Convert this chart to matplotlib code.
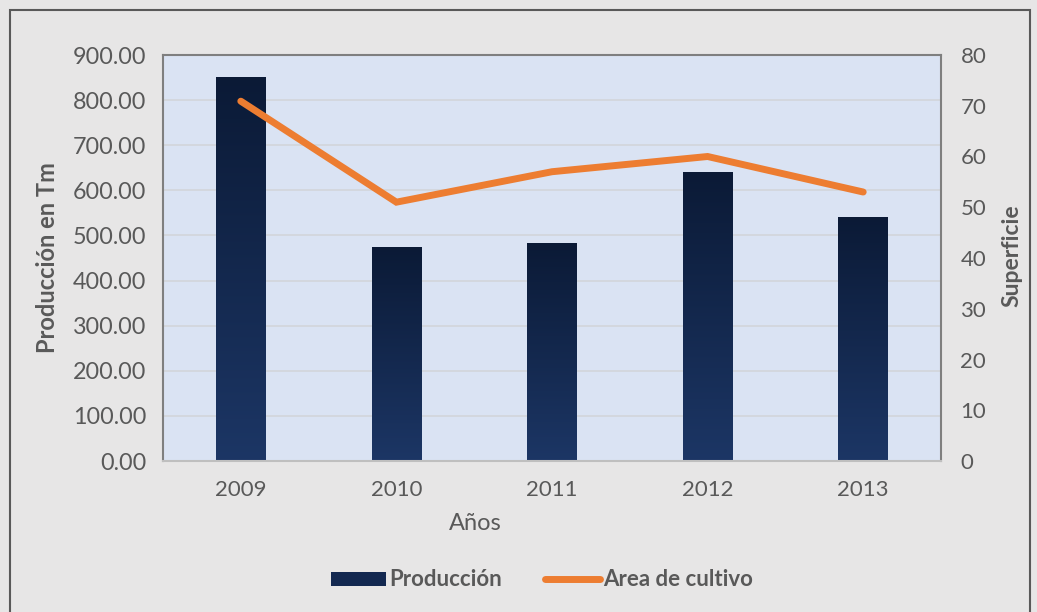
import matplotlib
matplotlib.use("Agg")
import matplotlib.pyplot as plt
import numpy as np
from matplotlib.patches import Rectangle
from matplotlib.lines import Line2D
from matplotlib.colors import LinearSegmentedColormap

years = ["2009", "2010", "2011", "2012", "2013"]
produccion = [851, 474, 483, 641, 541]
area_cultivo = [70.9, 51.0, 57.0, 60.0, 53.0]
left_ticks = [0, 100, 200, 300, 400, 500, 600, 700, 800, 900]
right_ticks = [0, 10, 20, 30, 40, 50, 60, 70, 80]

plt.rcParams['font.family'] = ['Lato', 'DejaVu Sans']
TXT = '#595959'
W, H = 1037, 612
fig = plt.figure(figsize=(W/100, H/100), dpi=100, facecolor='#e7e6e6')

# outer border
fig.patches.append(Rectangle((10/W, -0.01), 1020/W, 1 - 10/H + 0.01, transform=fig.transFigure,
                             fill=False, edgecolor='#595959', linewidth=1.5))

ax = fig.add_axes([163/W, 1 - 461/H, (941-163)/W, (461-55)/H])
ax.set_facecolor('#dae3f3')
x = np.arange(len(years))
ax.set_yticks(left_ticks)
ax.set_yticklabels([f"{v:.2f}" for v in left_ticks])
ax.grid(axis='y', color='#d3d6dc', linewidth=1.3)
ax.set_axisbelow(True)

cmap = LinearSegmentedColormap.from_list('nav', ['#1c3665', '#0b1a36'])
grad = np.linspace(0, 1, 256).reshape(-1, 1)
bars = ax.bar(x, produccion, width=0.32, color='#132850', zorder=2)
for b in bars:
    bx = b.get_x()
    bw, bh = b.get_width(), b.get_height()
    im = ax.imshow(grad, extent=[bx, bx + bw, 0, bh], origin='lower', cmap=cmap,
                   aspect='auto', zorder=2.5)
    im.set_clip_path(b)
ax.set_xlim(-0.5, len(years) - 0.5)
ax.set_ylim(0, 900)

ax.set_xticks(x)
ax.set_xticklabels(years)
ax.tick_params(axis='x', length=0, labelsize=16, colors=TXT, pad=14)
ax.tick_params(axis='y', length=0, labelsize=16.8, colors=TXT, pad=12)
for s in ['left', 'top', 'right']:
    ax.spines[s].set_color('#7f7f7f')
    ax.spines[s].set_linewidth(1.5)
ax.spines['bottom'].set_color('#bfbfbf')
ax.spines['bottom'].set_linewidth(1.5)

ax2 = ax.twinx()
ax2.set_ylim(0, 80)
ax2.set_yticks(right_ticks)
ax2.plot(x, area_cultivo, color='#ed7d31', linewidth=5, solid_capstyle='round',
         solid_joinstyle='miter', zorder=3)
ax2.tick_params(axis='y', length=0, labelsize=16, colors=TXT, pad=14)
for s in ax2.spines.values():
    s.set_visible(False)

fig.text(48/W, 1 - 258/H, "Producción en Tm", rotation=90, ha='center', va='center',
         fontsize=17, fontweight='bold', color=TXT)
fig.text(1012/W, 1 - 256/H, "Superficie", rotation=90, ha='center', va='center',
         fontsize=16.5, fontweight='bold', color=TXT)
fig.text(475/W, 1 - 523/H, "Años", ha='center', va='center', fontsize=17, color=TXT)

handles = [Rectangle((0, 0), 1, 1, facecolor='#132850'),
           Line2D([0], [0], color='#ed7d31', linewidth=5, solid_capstyle='round')]
leg = fig.legend(handles, ["Producción", "Area de cultivo"], loc='center',
                 bbox_to_anchor=(542/W, 1 - 580/H), ncol=2, frameon=False,
                 prop={'weight': 'bold', 'size': 16}, labelcolor=TXT,
                 handlelength=2.5, handletextpad=0.15, columnspacing=1.9, handleheight=0.6)

fig.savefig("out.png", dpi=100, facecolor=fig.get_facecolor())
